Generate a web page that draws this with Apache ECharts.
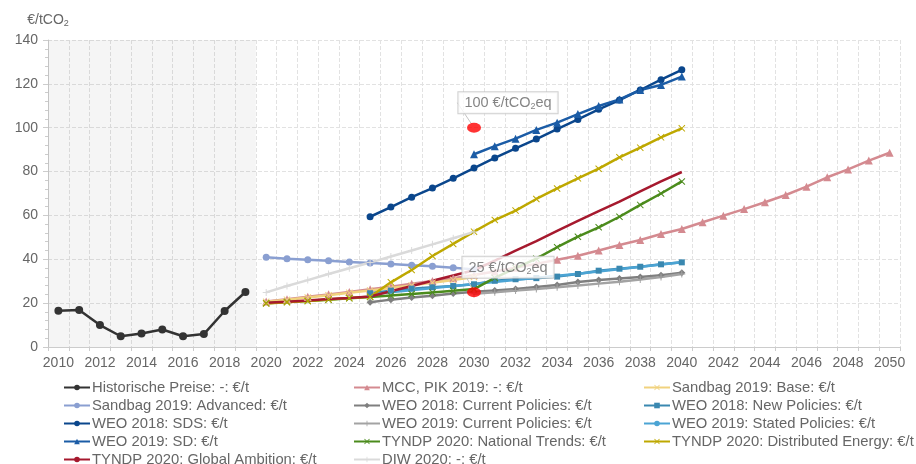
<!DOCTYPE html>
<html>
<head>
<meta charset="utf-8">
<script src="https://cdn.jsdelivr.net/npm/echarts@6/dist/echarts.min.js"></script>
<style>
  html, body { margin: 0; padding: 0; background: #fff; }
  #chart { width: 916px; height: 464px; }
</style>
</head>
<body>
<div id="chart"></div>
<script>
// categories 2010..2050
const years = [];
for (let y = 2010; y <= 2050; y++) years.push(String(y));

// series values (start year + yearly values)
const histStart = 2010;
const histValues = [16.5, 16.9, 10.0, 4.9, 6.2, 8.0, 4.9, 5.9, 16.4, 25.1];

const mccStart = 2020;
const mccValues = [20.8, 21.8, 22.9, 24.0, 25.1, 26.3, 27.5, 28.8, 30.1, 31.4, 32.8, 34.4, 36.1, 37.9, 39.8,
  41.6, 44.0, 46.5, 48.8, 51.5, 53.8, 56.9, 59.9, 62.9, 66.0, 69.3, 73.1, 77.4, 81.0, 85.0, 88.6];

const sbBaseStart = 2020;
const sbBaseValues = [20.6, 21.6, 22.6, 23.6, 24.7, 25.8, 26.9, 28.1, 29.3, 30.6, 31.9];

const sbAdvStart = 2020;
const sbAdvValues = [40.9, 40.2, 39.8, 39.3, 38.8, 38.3, 37.9, 37.3, 36.8, 36.1, 35.4];

const weo18CpStart = 2025;
const weo18CpValues = [20.4, 21.6, 22.6, 23.4, 24.4, 25.2, 25.8, 26.5, 27.4, 28.3, 29.6, 30.6, 31.2, 31.9, 32.7, 33.9];

const weo18NpStart = 2025;
const weo18NpValues = [24.5, 25.7, 26.6, 27.2, 27.8, 28.6, 30.2, 30.9, 31.4, 32.1, 33.3, 34.8, 35.7, 36.6, 37.7, 38.6];

const weo18SdsStart = 2025;
const weo18SdsValues = [59.4, 63.8, 68.3, 72.5, 76.9, 81.6, 86.2, 90.6, 94.8, 99.4, 103.8, 108.4, 112.6, 117.2, 121.9, 126.4];

const weo19CpStart = 2030;
const weo19CpValues = [24.3, 25.0, 25.8, 26.5, 27.3, 28.0, 28.9, 29.8, 30.8, 31.9, 33.3];

const weo19SpYears = ['2025', '2030', '2035', '2040'];
const weo19SpValues = [24.0, 28.7, 33.4, 38.6];

const weo19SdStart = 2030;
const weo19SdValues = [87.9, 91.6, 95.0, 99.0, 102.3, 106.2, 109.9, 112.9, 117.2, 119.5, 123.3];

const tyndpNtStart = 2020;
const tyndpNtValues = [20.0, 20.5, 21.0, 21.6, 22.2, 22.8, 23.5, 24.2, 24.9, 25.6, 26.4,
  31.5, 36.0, 40.3, 45.5, 50.3, 54.6, 59.4, 64.8, 70.0, 75.5];

const tyndpDeStart = 2020;
const tyndpDeValues = [19.8, 20.4, 21.0, 21.7, 22.3, 22.9, 29.5, 35.1, 41.5, 47.0, 52.6,
  57.9, 62.2, 67.5, 72.3, 76.9, 81.3, 86.5, 90.9, 95.6, 99.7];

const tyndpGaStart = 2020;
const tyndpGaValues = [20.2, 20.6, 21.2, 21.9, 22.4, 23.0, 25.4, 27.8, 30.2, 32.6, 35.0,
  39.4, 43.9, 48.3, 52.9, 57.5, 62.0, 66.3, 71.0, 75.5, 79.8];

const diwStart = 2020;
const diwValues = [24.9, 27.8, 30.5, 33.3, 35.9, 38.5, 41.3, 44.0, 46.8, 49.6, 52.5];

// annotations
const noteYears = ['2030', '2030'];
const noteValues = [100, 25];
const noteTexts = ['100 €/tCO{sub|2}eq', '25 €/tCO{sub|2}eq'];

// shaded history band (half-year edges)
const historyBand = [2009.5, 2019.5];

function pairs(start, values) {
  return values.map((v, i) => [String(start + i), v]);
}

const crossPath = 'path://M0,1L1,0L5,4L9,0L10,1L6,5L10,9L9,10L5,6L1,10L0,9L4,5Z';
const plusPath = 'path://M4.3,0H5.7V4.3H10V5.7H5.7V10H4.3V5.7H0V4.3H4.3Z';

function line(name, color, data, symbol, size) {
  return {
    name,
    type: 'line',
    data,
    symbol,
    symbolSize: size,
    showSymbol: symbol !== 'none',
    lineStyle: { color, width: 2.5 },
    itemStyle: { color },
    animation: false,
  };
}

const series = [
  line('Historische Preise: -: €/t', '#333333', pairs(histStart, histValues), 'circle', 8),
  line('MCC, PIK 2019: -: €/t', '#d48a90', pairs(mccStart, mccValues), 'triangle', 8),
  line('Sandbag 2019: Base: €/t', '#f1d27e', pairs(sbBaseStart, sbBaseValues), crossPath, 7),
  line('Sandbag 2019: Advanced: €/t', '#8a9fd1', pairs(sbAdvStart, sbAdvValues), 'circle', 7),
  line('WEO 2018: Current Policies: €/t', '#7f7f7f', pairs(weo18CpStart, weo18CpValues), 'diamond', 7),
  line('WEO 2018: New Policies: €/t', '#3a88b0', pairs(weo18NpStart, weo18NpValues), 'rect', 6),
  line('WEO 2018: SDS: €/t', '#0a468c', pairs(weo18SdsStart, weo18SdsValues), 'circle', 7),
  line('WEO 2019: Current Policies: €/t', '#a3a3a3', pairs(weo19CpStart, weo19CpValues), plusPath, 7),
  line('WEO 2019: Stated Policies: €/t', '#4ba4d4', weo19SpYears.map((y, i) => [y, weo19SpValues[i]]), 'none', 0),
  line('WEO 2019: SD: €/t', '#1b5ca6', pairs(weo19SdStart, weo19SdValues), 'triangle', 8),
  line('TYNDP 2020: National Trends: €/t', '#4b8b1c', pairs(tyndpNtStart, tyndpNtValues), crossPath, 7),
  line('TYNDP 2020: Distributed Energy: €/t', '#bea800', pairs(tyndpDeStart, tyndpDeValues), crossPath, 7),
  line('TYNDP 2020: Global Ambition: €/t', '#a6192e', pairs(tyndpGaStart, tyndpGaValues), 'none', 0),
  line('DIW 2020: -: €/t', '#dadada', pairs(diwStart, diwValues), plusPath, 7),
];

// legend laid out row by row in 3 columns, as in the original
const names = series.map(s => s.name);
const legendCols = [0, 1, 2].map(c => names.filter((n, i) => i % 3 === c));
const legendLeft = [63, 353, 643];

series.push({
  type: 'line',
  xAxisIndex: 1,
  data: [],
  silent: true,
  z: 0,
  markArea: {
    silent: true,
    itemStyle: { color: 'rgba(0,0,0,0.04)' },
    data: [[{ xAxis: historyBand[0] }, { xAxis: historyBand[1] }]],
  },
});

series.push({
  type: 'scatter',
  z: 10,
  animation: false,
  data: noteYears.map((y, i) => [y, noteValues[i]]),
  symbol: 'circle',
  symbolSize: [14, 10],
  itemStyle: { color: '#ff0000' },
  label: {
    show: true,
    position: 'inside',
    formatter: p => noteTexts[p.dataIndex],
    color: '#666',
    fontSize: 14.5,
    backgroundColor: '#fff',
    borderColor: '#c4c4c4',
    borderWidth: 1,
    padding: [3, 6, 2, 6],
    rich: {
      sub: { fontSize: 9, color: '#666', padding: [7, 0, 0, 0] },
    },
  },
  labelLayout: { dx: 34, dy: -25 },
  labelLine: { show: true, lineStyle: { color: '#c4c4c4', width: 1 } },
});

const chart = echarts.init(document.getElementById('chart'));
chart.setOption({
  animation: false,
  textStyle: { fontFamily: 'Liberation Sans, Arial, sans-serif' },
  grid: { left: 48, right: 16, top: 40, bottom: 117 },
  legend: legendCols.map((col, c) => ({
    data: col,
    orient: 'vertical',
    left: legendLeft[c],
    top: 380,
    height: 120,
    padding: 0,
    itemGap: 3,
    itemWidth: 26,
    itemHeight: 7,
    lineStyle: { width: 2 },
    textStyle: { color: '#666', fontSize: 14.8, padding: [0, 0, 0, -3] },
  })),
  xAxis: [
    {
      type: 'category',
      data: years,
      boundaryGap: true,
      axisLine: { lineStyle: { color: '#cccccc' } },
      axisTick: { show: true, interval: 0, length: 4, lineStyle: { color: '#cccccc' } },
      axisLabel: { interval: 1, color: '#666', fontSize: 14, margin: 9 },
      splitLine: { show: true, interval: 0, lineStyle: { color: '#e2e2e2', type: 'dashed' } },
    },
    {
      type: 'value',
      min: 2009.5,
      max: 2050.5,
      show: false,
    },
  ],
  yAxis: {
    type: 'value',
    min: 0,
    max: 140,
    interval: 20,
    name: '€/tCO{sub|2}',
    nameLocation: 'end',
    nameGap: 12,
    nameTextStyle: {
      color: '#666',
      fontSize: 14,
      align: 'center',
      rich: { sub: { fontSize: 9, color: '#666', padding: [7, 0, 0, 0] } },
    },
    axisLine: { show: true, lineStyle: { color: '#cccccc' } },
    axisTick: { show: true, length: 5, lineStyle: { color: '#cccccc' } },
    minorTick: { show: true, splitNumber: 5, length: 3, lineStyle: { color: '#cccccc' } },
    axisLabel: { color: '#666', fontSize: 14, margin: 10 },
    splitLine: { lineStyle: { color: '#e2e2e2', type: 'dashed' } },
  },
  series,
});
</script>
</body>
</html>
